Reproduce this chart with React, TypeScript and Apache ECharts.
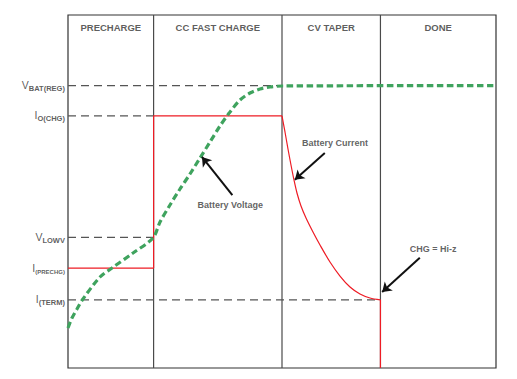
import React, { useEffect, useRef } from "react";
import * as echarts from "echarts";

// Phase boundaries (time units) and names
const phaseBounds = [0, 20, 50, 73, 100];
const phaseNames = ["PRECHARGE", "CC FAST CHARGE", "CV TAPER", "DONE"];

// Levels (value units, 0..100)
const levelMain = ["V", "I", "V", "I", "I"];
const levelSub = ["BAT(REG)", "O(CHG)", "LOWV", "(PRECHG)", "(TERM)"];
const levelValues = [80, 71.4, 37, 28.3, 19.3];
// x extent of each gray dashed reference line
const levelDashEnd = [50, 20, 20, 0, 73];

// Battery voltage curve
const voltageX = [0, 0.93, 2.1, 3.5, 7.48, 10.28, 15.19, 19.86, 21.5, 23.83, 26.17, 28.5, 30.84, 33.18, 35.51, 37.85, 40.19, 42.52, 44.86, 47.2, 50, 100];
const voltageY = [11.33, 14.16, 16.71, 19.55, 25.78, 28.33, 32.58, 36.83, 41.36, 46.18, 50.71, 54.96, 59.49, 64.02, 68.56, 72.52, 75.92, 77.9, 79.04, 79.6, 79.89, 80];

// Battery current: step part, taper curve, drop
const currentStepX = [0, 20, 20, 50];
const currentStepY = [28.3, 28.3, 71.4, 71.4];
const currentTaperX = [50, 50.7, 51.4, 52.1, 52.8, 53.5, 54.44, 55.61, 57.24, 58.88, 61.21, 63.55, 65.89, 68.22, 70.56, 73];
const currentTaperY = [71.4, 66.86, 62.04, 57.51, 53.26, 49.58, 45.89, 42.49, 38.53, 34.84, 30.03, 26.06, 22.95, 20.96, 19.83, 19.3];
const currentDropX = [73, 73];
const currentDropY = [19.3, 0];

// Annotations
const noteTexts = ["Battery Voltage", "Battery Current", "CHG = Hi-z"];
const notePos = [[37.9, 46.3], [62.4, 63.7], [85.3, 33.7]];
const arrowTail = [[38.4, 49.0], [60.0, 60.9], [82.2, 31.2]];
const arrowHead = [[31.3, 59.8], [53.0, 53.3], [73.4, 21.5]];

const headerY = 96.6;

const zip = (xs: number[], ys: number[]) => xs.map((x, i) => [x, ys[i]]);

export default function App() {
  const ref = useRef<HTMLDivElement>(null);
  useEffect(() => {
    if (!ref.current) return;
    const chart = echarts.init(ref.current, null, { renderer: "svg" });
    const gray = "#4a4a4a";
    const font = "Liberation Sans, Arial, sans-serif";
    const series: any[] = [];

    // phase dividers
    phaseBounds.slice(1, -1).forEach((b) => {
      series.push({
        type: "line",
        data: [[b, 0], [b, 100]],
        symbol: "none",
        lineStyle: { color: gray, width: 1.2 },
        z: 1,
      });
    });

    // gray dashed reference lines
    levelValues.forEach((v, i) => {
      if (levelDashEnd[i] > 0) {
        series.push({
          type: "line",
          data: [[0, v], [levelDashEnd[i], v]],
          symbol: "none",
          lineStyle: { color: "#555", width: 1.2, type: [8, 5] },
          z: 2,
        });
      }
    });

    // current
    const red = { color: "#ee1c25", width: 1.2 };
    series.push({ type: "line", data: zip(currentStepX, currentStepY), symbol: "none", lineStyle: red, z: 3 });
    series.push({
      type: "line",
      data: zip(currentTaperX, currentTaperY),
      symbol: "none",
      smooth: 0.3,
      lineStyle: red,
      z: 3,
    });
    series.push({ type: "line", data: zip(currentDropX, currentDropY), symbol: "none", lineStyle: red, z: 3 });

    // voltage
    series.push({
      type: "line",
      data: zip(voltageX, voltageY),
      symbol: "none",
      smooth: 0.3,
      lineStyle: { color: "#3fa35e", width: 3.2, type: [6.5, 3.5] },
      z: 4,
    });

    // arrows
    series.push({
      type: "lines",
      coordinateSystem: "cartesian2d",
      symbol: ["none", "arrow"],
      symbolSize: 9,
      lineStyle: { color: "#111", width: 2, opacity: 1 },
      data: arrowTail.map((t, i) => ({ coords: [t, arrowHead[i]] })),
      z: 5,
    });

    // annotation texts
    series.push({
      type: "scatter",
      symbolSize: 0.1,
      itemStyle: { color: "transparent" },
      data: notePos.map((p, i) => ({ value: p, name: noteTexts[i] })),
      label: {
        show: true,
        position: "inside",
        formatter: (p: any) => p.name,
        color: "#3a3a3a",
        fontSize: 9,
        fontWeight: "bold",
        fontFamily: font,
      },
      z: 6,
    });

    // header texts
    series.push({
      type: "scatter",
      symbolSize: 0.1,
      itemStyle: { color: "transparent" },
      data: phaseNames.map((n, i) => ({
        value: [(phaseBounds[i] + phaseBounds[i + 1]) / 2, headerY],
        name: n,
      })),
      label: {
        show: true,
        position: "inside",
        formatter: (p: any) => p.name,
        color: "#333",
        fontSize: 9.5,
        fontWeight: "bold",
        fontFamily: font,
      },
      z: 6,
    });

    // left level labels
    const subStyle = (size: number) => ({
      fontSize: size,
      fontWeight: "bold",
      color: "#333",
      lineHeight: 13,
      verticalAlign: "bottom",
      fontFamily: font,
    });
    series.push({
      type: "scatter",
      symbolSize: 0.1,
      itemStyle: { color: "transparent" },
      data: levelValues.map((v, i) => ({ value: [0, v], name: String(i) })),
      label: {
        show: true,
        position: "left",
        distance: 3,
        offset: [0, 0.5],
        formatter: (p: any) => {
          const i = Number(p.name);
          const key = levelSub[i].length > 7 && levelSub[i].startsWith("(") ? "n" : "s";
          return `{m|${levelMain[i]}}{${key}|${levelSub[i]}}`;
        },
        rich: {
          m: {
            fontSize: 10.5,
            color: "#333",
            lineHeight: 13,
            verticalAlign: "top",
            fontFamily: font,
          },
          s: subStyle(7.5),
          n: subStyle(6),
        },
      },
      z: 6,
    });

    chart.setOption({
      animation: false,
      backgroundColor: "#fff",
      grid: {
        left: 68,
        top: 15,
        width: 428,
        height: 353,
        show: true,
        borderColor: "#333",
        borderWidth: 1.2,
        backgroundColor: "transparent",
      },
      xAxis: { type: "value", min: 0, max: 100, show: false },
      yAxis: { type: "value", min: 0, max: 100, show: false },
      series,
    });
    return () => chart.dispose();
  }, []);
  return (
    <div
      ref={ref}
      style={{ position: "fixed", left: 0, top: 0, width: 517, height: 379, background: "#fff" }}
    />
  );
}
